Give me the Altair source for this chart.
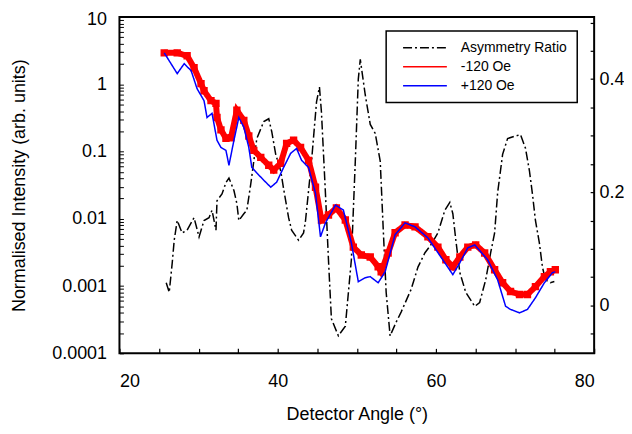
import altair as alt
import pandas as pd

# ---- data ----
angle_asym = [25.91, 26.29, 26.67, 26.92, 27.30, 27.92, 28.55, 29.43, 30.06, 30.69, 31.32, 31.70,
              32.20, 32.33, 32.96, 33.46, 33.84, 34.47, 34.84, 35.09, 35.72, 36.10, 36.60, 36.98,
              37.36, 38.24, 38.87, 39.25, 39.75, 40.38, 40.75, 41.38, 41.76, 42.64, 43.27, 43.52,
              44.28, 44.91, 45.28, 45.53, 46.04, 46.42, 46.79, 47.67, 48.55, 49.31, 49.81, 50.19,
              50.44, 51.07, 51.70, 52.33, 52.96, 53.33, 53.71, 54.21, 54.97, 55.60, 56.86, 57.74,
              58.62, 59.37, 60.25, 61.13, 61.76, 62.14, 62.52, 63.02, 63.77, 64.91, 65.53, 66.29,
              66.92, 67.42, 67.80, 68.43, 69.06, 69.94, 70.69, 71.32, 71.82, 72.20, 72.58, 73.08,
              73.46, 73.84, 74.47, 74.97]
asym_ratio = [0.040, 0.023, 0.075, 0.115, 0.150, 0.128, 0.133, 0.155, 0.121, 0.150, 0.155, 0.168,
              0.133, 0.185, 0.197, 0.217, 0.225, 0.203, 0.180, 0.150, 0.162, 0.168, 0.215, 0.255,
              0.295, 0.325, 0.330, 0.307, 0.267, 0.238, 0.206, 0.155, 0.133, 0.115, 0.128, 0.150,
              0.255, 0.360, 0.386, 0.342, 0.197, 0.080, -0.024, -0.054, -0.037, 0.080, 0.255, 0.400,
              0.435, 0.372, 0.320, 0.304, 0.255, 0.138, 0.023, -0.054, -0.030, -0.012, 0.028, 0.068,
              0.093, 0.107, 0.128, 0.168, 0.182, 0.162, 0.115, 0.058, 0.023, -0.002, 0.005, 0.045,
              0.093, 0.128, 0.199, 0.267, 0.295, 0.299, 0.302, 0.278, 0.238, 0.197, 0.150, 0.110,
              0.068, 0.045, 0.040, 0.042]

angle_neg = [25.66, 27.30, 28.55, 29.43, 30.31, 30.69, 31.57, 32.20, 32.33, 32.83, 33.46, 34.09,
             34.84, 35.72, 36.35, 36.98, 37.86, 38.87, 39.50, 40.38, 41.13, 42.01, 42.89, 43.90,
             44.78, 45.53, 46.42, 47.42, 48.55, 49.56, 50.57, 51.70, 52.70, 53.08, 53.96, 54.84,
             56.10, 57.36, 58.99, 60.25, 61.26, 62.14, 63.02, 64.03, 65.03, 66.16, 67.42, 68.43,
             69.43, 70.57, 71.57, 72.58, 73.71, 74.47, 75.09]
int_neg = [2.93, 2.93, 2.65, 1.76, 1.02, 0.80, 0.57, 0.52, 0.32, 0.21, 0.157, 0.16,
           0.41, 0.29, 0.17, 0.104, 0.082, 0.0625, 0.053, 0.067, 0.132, 0.147, 0.115, 0.074,
           0.0295, 0.0096, 0.0114, 0.0145, 0.0096, 0.0038, 0.0029, 0.0027, 0.00194, 0.00163, 0.0031, 0.0062,
           0.0081, 0.0076, 0.0054, 0.0038, 0.00246, 0.00194, 0.0027, 0.0038, 0.0041, 0.0031, 0.00175, 0.00112,
           0.00083, 0.00075, 0.00075, 0.00098, 0.00138, 0.00163, 0.00175]

angle_pos = [25.66, 27.30, 28.18, 29.06, 29.81, 30.69, 31.07, 31.70, 32.33, 32.83, 33.46, 33.84,
             34.47, 35.09, 35.72, 36.35, 36.73, 37.36, 38.24, 39.12, 39.87, 40.75, 41.64, 42.39,
             43.02, 43.90, 44.78, 45.41, 46.04, 47.30, 48.30, 49.31, 50.19, 51.07, 51.70, 52.70,
             53.58, 54.84, 56.10, 57.36, 58.99, 60.63, 62.14, 63.02, 64.03, 64.91, 66.54, 67.80,
             68.81, 69.43, 70.57, 71.57, 72.58, 73.71, 74.72, 75.09]
int_pos = [2.93, 1.44, 2.02, 1.59, 0.86, 0.57, 0.32, 0.37, 0.147, 0.115, 0.104, 0.0625,
           0.147, 0.32, 0.23, 0.115, 0.058, 0.048, 0.0375, 0.0295, 0.035, 0.058, 0.094, 0.111,
           0.074, 0.058, 0.024, 0.0054, 0.0087, 0.016, 0.0135, 0.0044, 0.00116, 0.00133, 0.00138, 0.00112,
           0.00163, 0.0058, 0.0087, 0.0076, 0.0052, 0.0027, 0.00148, 0.00222, 0.0037, 0.0041, 0.00246, 0.00124,
           0.00050, 0.00045, 0.00040, 0.00045, 0.00067, 0.00112, 0.00158, 0.00163]

series_names = ["Asymmetry Ratio", "-120 Oe", "+120 Oe"]
series_colors = ["#000000", "#ff0000", "#0000ff"]
series_dashes = [[9, 3, 2, 3], [1, 0], [1, 0]]

x_tick_values = list(range(20, 81, 5))
log_tick_values = [m * 10.0 ** e for e in range(-4, 1) for m in range(1, 10)] + [10]
right_tick_values = [-0.05, 0.0, 0.05, 0.1, 0.15, 0.2, 0.25, 0.3, 0.35, 0.4, 0.45, 0.5]

# ---- tables ----
asym_df = pd.DataFrame({"angle": angle_asym, "value": asym_ratio, "series": "Asymmetry Ratio"})
neg_df = pd.DataFrame({"angle": angle_neg, "intensity": int_neg, "series": "-120 Oe"})
pos_df = pd.DataFrame({"angle": angle_pos, "intensity": int_pos, "series": "+120 Oe"})

FONT = "Liberation Sans"

x_enc = alt.X(
    "angle:Q",
    scale=alt.Scale(domain=[20, 80], nice=False, zero=False),
    axis=alt.Axis(
        values=x_tick_values, labelExpr="datum.value % 20 == 0 ? datum.label : ''",
        offset=-5, tickSize=5, domain=False, grid=False, labelPadding=19,
        title="Detector Angle (°)", titlePadding=15, labelFontSize=18, titleFontSize=18,
        titleFontWeight="normal", labelFont=FONT, titleFont=FONT,
        labelColor="black", titleColor="black", tickColor="black", tickWidth=1.2,
    ),
)

y_log = alt.Y(
    "intensity:Q",
    scale=alt.Scale(type="log", domain=[0.0001, 10], nice=False),
    axis=alt.Axis(
        orient="left", values=log_tick_values, format="~g",
        labelExpr="abs(log(datum.value)/LN10 - round(log(datum.value)/LN10)) < 1e-6 ? datum.label : ''",
        labelOffset={"condition": {"test": "datum.value >= 10", "value": 3}, "value": 0},
        offset=-4, tickSize=4, domain=False, grid=False, labelPadding=13,
        title="Normalised Intensity (arb. units)", titlePadding=23,
        labelFontSize=18, titleFontSize=18, titleFontWeight="normal",
        labelFont=FONT, titleFont=FONT, labelColor="black", titleColor="black",
        tickColor="black", tickWidth=1,
    ),
)

y_right = alt.Y(
    "value:Q",
    scale=alt.Scale(domain=[-0.085, 0.51], nice=False, zero=False),
    axis=alt.Axis(
        orient="right", values=right_tick_values, format="~g",
        labelExpr="abs(datum.value*5 - round(datum.value*5)) < 1e-6 ? datum.label : ''",
        offset=-4, tickSize=4, domain=False, grid=False, labelPadding=5, title=None,
        labelFontSize=18, labelFont=FONT, labelColor="black", tickColor="black", tickWidth=1.2,
    ),
)

legend = alt.Legend(
    title=None, orient="none", legendX=268, legendY=14, padding=10,
    strokeColor="black", fillColor="white", symbolType="M0,0H8", symbolSize=121,
    symbolStrokeWidth=1.5, labelFontSize=14, labelFont=FONT, labelColor="black",
    labelOffset=51, rowPadding=5,
)

color_enc = alt.Color("series:N", scale=alt.Scale(domain=series_names, range=series_colors), legend=legend)
dash_enc = alt.StrokeDash("series:N", scale=alt.Scale(domain=series_names, range=series_dashes), legend=legend)

asym_layer = alt.Chart(asym_df).mark_line(strokeWidth=1.5, clip=True).encode(
    x=x_enc, y=y_right, color=color_enc, strokeDash=dash_enc, order="angle:Q"
)

neg_line = alt.Chart(neg_df).mark_line(strokeWidth=6, clip=True).encode(
    x=x_enc, y=y_log, color=color_enc, strokeDash=dash_enc, order="angle:Q"
)
neg_pts = alt.Chart(neg_df).mark_point(shape="square", filled=True, size=55, opacity=1, clip=True).encode(
    x=x_enc, y=y_log, color=alt.value("#ff0000")
)
pos_line = alt.Chart(pos_df).mark_line(strokeWidth=1.5, clip=True).encode(
    x=x_enc, y=y_log, color=color_enc, strokeDash=dash_enc, order="angle:Q"
)

intensity = alt.layer(neg_line, neg_pts, pos_line)

chart = (
    alt.layer(asym_layer, intensity)
    .resolve_scale(y="independent")
    .properties(
        width=477, height=338,
        autosize=alt.AutoSizeParams(type="none"),
        padding={"left": 112, "top": 8, "right": 30, "bottom": 75},
        background="white",
    )
    .configure_view(stroke="black", strokeWidth=2)
    .configure_legend(strokeWidth=1.5)
)

chart.save("out.html", embed_options={"renderer": "svg", "actions": False})
